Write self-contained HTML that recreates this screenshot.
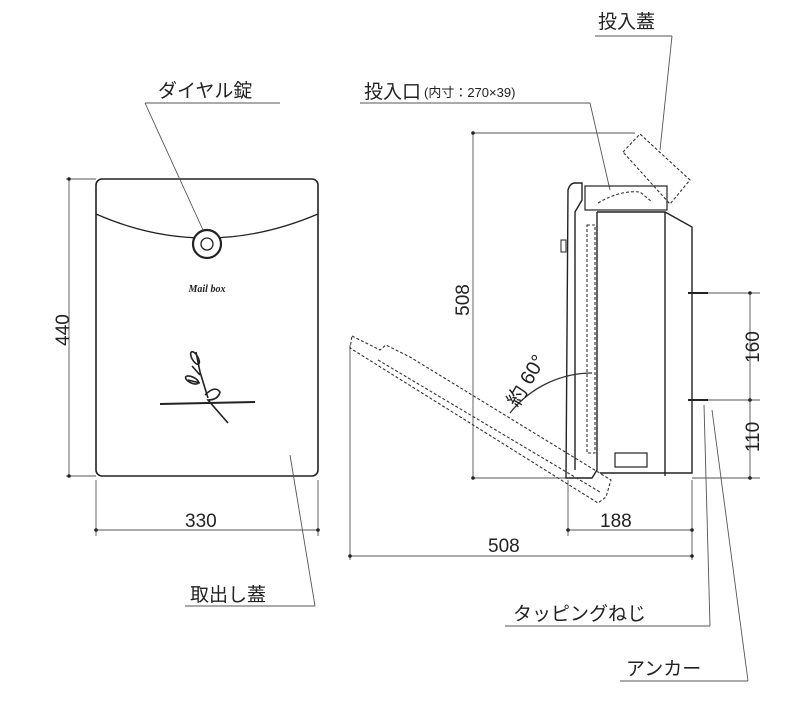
<!DOCTYPE html>
<html><head><meta charset="utf-8"><style>
html,body{margin:0;padding:0;background:#fff;}
svg{display:block;font-family:"Liberation Sans","Noto Sans CJK JP",sans-serif;}
</style></head><body>
<svg width="800" height="702" viewBox="0 0 800 702" xmlns="http://www.w3.org/2000/svg">
<g fill="none" stroke="#222" stroke-width="1.6">
<rect x="96" y="179" width="222" height="297" rx="6"/>
<path d="M96,214 Q205,262 318,214" stroke-width="1.3"/>
<circle cx="207" cy="244" r="14" fill="#fff" stroke-width="2.2"/>
<circle cx="207" cy="244" r="6" stroke-width="1.3"/>
<path d="M160,404 L255,402" stroke-width="2"/>
<path d="M208,398 L200,372 L196,352 M200,375 L192,366 M200,383 L188,380 M205,395 Q215,385 220,392 Q218,400 208,400 L228,423" stroke-width="1.6"/>
<ellipse cx="195" cy="358" rx="3" ry="7" transform="rotate(-30 195 358)"/>
<ellipse cx="192" cy="380" rx="7" ry="3" transform="rotate(25 192 380)"/>
<text x="207" y="292" font-size="10" font-weight="bold" font-style="italic" font-family="Liberation Serif,serif" fill="#222" stroke="none" text-anchor="middle">Mail box</text>
</g>
<g fill="none" stroke="#555" stroke-width="0.9">
<line x1="69" y1="179" x2="69" y2="476"/>
<line x1="66" y1="179" x2="96" y2="179"/><line x1="66" y1="476" x2="96" y2="476"/>
<line x1="96" y1="480" x2="96" y2="536"/><line x1="318" y1="480" x2="318" y2="536"/>
<line x1="96" y1="530" x2="318" y2="530"/>
<polyline points="145,103 280,103"/><line x1="145" y1="103" x2="203" y2="230"/>
<polyline points="185,606 315,606"/><line x1="315" y1="606" x2="290" y2="455"/>
<polyline points="360,103 590,103"/><line x1="590" y1="103" x2="610" y2="190"/>
<polyline points="595,36 672,36"/><line x1="672" y1="36" x2="660" y2="150"/>
<polyline points="505,626 710,626"/><line x1="710" y1="626" x2="704" y2="405"/>
<polyline points="620,681 748,681"/><line x1="748" y1="681" x2="712" y2="410"/>
<line x1="473" y1="133" x2="473" y2="478"/>
<line x1="473" y1="133" x2="635" y2="133"/><line x1="473" y1="478" x2="568" y2="478"/>
<line x1="750" y1="293" x2="750" y2="478"/>
<line x1="690" y1="293" x2="760" y2="293"/><line x1="705" y1="400" x2="760" y2="400"/><line x1="692" y1="478" x2="760" y2="478"/>
<line x1="568" y1="480" x2="568" y2="536"/><line x1="692" y1="480" x2="692" y2="560"/>
<line x1="568" y1="530" x2="692" y2="530"/>
<line x1="350" y1="345" x2="350" y2="560"/>
<line x1="350" y1="556" x2="692" y2="556"/>
</g>
<g fill="#222">
<circle cx="69" cy="179" r="1.8"/><circle cx="69" cy="476" r="1.8"/>
<circle cx="96" cy="530" r="1.8"/><circle cx="318" cy="530" r="1.8"/>
<circle cx="473" cy="133" r="1.8"/><circle cx="473" cy="478" r="1.8"/>
<circle cx="750" cy="293" r="1.8"/><circle cx="750" cy="400" r="1.8"/><circle cx="750" cy="478" r="1.8"/>
<circle cx="568" cy="530" r="1.8"/><circle cx="692" cy="530" r="1.8"/>
<circle cx="350" cy="556" r="1.8"/><circle cx="692" cy="556" r="1.8"/>
</g>
<g fill="none" stroke="#222" stroke-width="1.4">
<path d="M575,183 Q570,183 568,190 L566,478 L592,478 L597,470 L597,212"/>
<path d="M575,183 L582,183 L582,200 L575,212 L575,470"/>
<path d="M597,212 L665,212 L692,227 L692,473 L600,473"/>
<line x1="665" y1="212" x2="665" y2="476"/>
<rect x="585" y="186" width="82" height="24" stroke-width="1.2"/>
<rect x="615" y="453" width="32" height="14" stroke-width="1.2"/>
<rect x="561" y="240" width="5" height="12" stroke-width="1"/>
<line x1="688" y1="293" x2="708" y2="293" stroke-width="2"/>
<line x1="688" y1="400" x2="708" y2="400" stroke-width="2"/>
</g>
<g fill="none" stroke="#333" stroke-width="1.1" stroke-dasharray="3,2">
<rect x="587" y="225" width="8" height="228"/>
<path d="M623,152 L640,134 L690,180 L670,204 Z"/>
<path d="M598,203 Q620,190 640,192 L652,202"/>
<path d="M352,336 L380,350 L386,345 L410,357 L611,480 L606,497 L598,503 L350,348 Z"/>
<path d="M378,360 L600,492"/>
<path d="M510,413 A105,105 0 0 1 592,373" stroke-dasharray="none" stroke-width="1.3"/>
</g>
<g fill="#222" font-size="19">
<text x="158" y="97">ダイヤル錠</text>
<text x="364" y="98">投入口</text>
<text x="424" y="97" font-size="13">(内寸：270×39)</text>
<text x="598" y="28">投入蓋</text>
<text x="190" y="601">取出し蓋</text>
<text x="513" y="620">タッピングねじ</text>
<text x="626" y="675">アンカー</text>
<text x="185" y="527">330</text>
<text x="600" y="527">188</text>
<text x="488" y="552">508</text>
<text transform="translate(69,330) rotate(-90)" text-anchor="middle">440</text>
<text transform="translate(469,300) rotate(-90)" text-anchor="middle">508</text>
<text transform="translate(759,347) rotate(-90)" text-anchor="middle">160</text>
<text transform="translate(759,437) rotate(-90)" text-anchor="middle">110</text>
<text transform="translate(532,384) rotate(-60)" text-anchor="middle" font-size="20">約 60°</text>
</g>
</svg>
</body></html>
